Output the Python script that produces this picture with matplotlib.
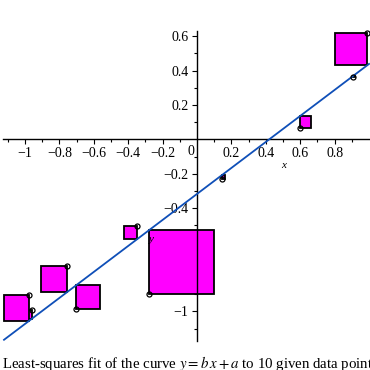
import numpy as np
import matplotlib
matplotlib.use("Agg")
import matplotlib.pyplot as plt
from matplotlib.patches import Rectangle
from matplotlib.ticker import FixedLocator, FuncFormatter

# data points
xs = [0.990, 0.909, 0.598, 0.143, -0.277, -0.347, -0.754, -0.702, -0.959, -0.975]
ys = [0.616, 0.360, 0.068, -0.231, -0.901, -0.504, -0.737, -0.987, -0.992, -0.905]
x_ticks = [-1, -0.8, -0.6, -0.4, -0.2, 0.2, 0.4, 0.6, 0.8]
y_ticks = [-1, -0.8, -0.6, -0.4, -0.2, 0.2, 0.4, 0.6]
x_minor = [-1.1, -0.9, -0.7, -0.5, -0.3, -0.1, 0.1, 0.3, 0.5, 0.7, 0.9]
y_minor = [-1.1, -0.9, -0.7, -0.5, -0.3, -0.1, 0.1, 0.3, 0.5]
caption = "Least-squares fit of the curve $y = b\\,x + a$ to 10 given data points"

plt.rcParams['font.family'] = ['Liberation Serif', 'DejaVu Serif']
plt.rcParams['mathtext.fontset'] = 'stix'

x = np.array(xs)
y = np.array(ys)
b, a = np.polyfit(x, y, 1)
r = y - (b * x + a)

fig = plt.figure(figsize=(3.7, 3.7), dpi=100)
ax = fig.add_axes([0, 0, 1, 1])
ax.set_xlim(-1.1453, 1.0058)
ax.set_ylim(-1.341, 0.81)
ax.patch.set_alpha(0)

for xi, yi, ri in zip(x, y, r):
    x0, x1 = sorted([xi, xi - ri])
    y0, y1 = sorted([yi, yi - ri])
    ax.add_patch(Rectangle((x0, y0), x1 - x0, y1 - y0, facecolor='#ff00ff',
                           edgecolor='black', linewidth=1.3, zorder=2))

xl = np.array([-1.122, 1.0])
ax.plot(xl, b * xl + a, color='#0f4fb8', linewidth=1.3, zorder=3)
ax.plot(x, y, linestyle='none', marker='o', markersize=3.6, markerfacecolor='none',
        markeredgecolor='black', markeredgewidth=0.9, zorder=4)

for s in ['top', 'right']:
    ax.spines[s].set_visible(False)
ax.spines['left'].set_position(('data', 0))
ax.spines['bottom'].set_position(('data', 0))
ax.spines['bottom'].set_bounds(-1.125, 1.0)
ax.spines['left'].set_bounds(-1.17, 0.63)
for s in ['left', 'bottom']:
    ax.spines[s].set_linewidth(1.0)

def fmt(v, pos=None):
    s = ('%g' % abs(v))
    return ('\u2212' + s) if v < 0 else s

ax.xaxis.set_major_locator(FixedLocator(x_ticks))
ax.yaxis.set_major_locator(FixedLocator(y_ticks))
ax.xaxis.set_minor_locator(FixedLocator(x_minor))
ax.yaxis.set_minor_locator(FixedLocator(y_minor))
ax.xaxis.set_major_formatter(FuncFormatter(fmt))
ax.yaxis.set_major_formatter(FuncFormatter(fmt))
ax.tick_params(which='major', direction='out', length=3.5, width=0.8, labelsize=10, pad=2)
ax.tick_params(which='minor', direction='out', length=2, width=0.8)
ax.tick_params(axis='y', which='major', pad=2.5)

ax.text(-0.037, -0.072, '0', ha='center', va='center', fontsize=10)
ax.text(0.501, -0.153, 'x', ha='center', va='center', fontsize=8, style='italic')
ax.text(-0.263, -0.585, 'y', ha='center', va='center', fontsize=8, style='italic')

fig.text(2 / 370, 2 / 370, caption, ha='left', va='baseline', fontsize=10.7)

fig.savefig('out.png', dpi=100)
